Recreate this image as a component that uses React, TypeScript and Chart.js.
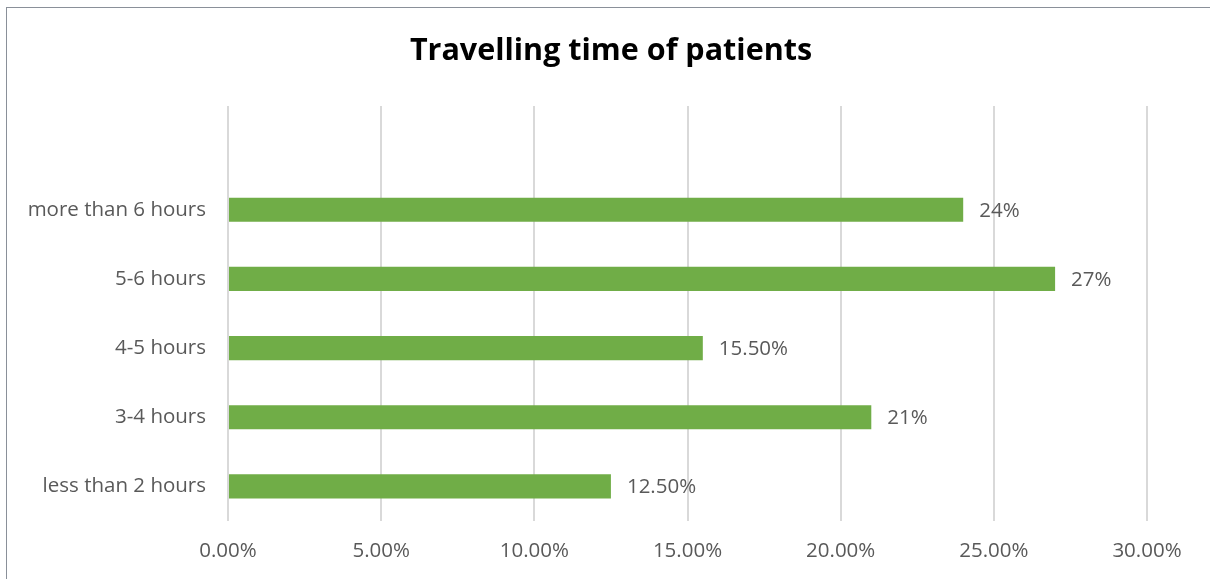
import React, { useEffect, useRef } from "react";
import { Chart, registerables } from "chart.js";

Chart.register(...registerables);

// Travel-time groups, top to bottom (first slot is an empty spacer row)
const categories: string[] = ["", "more than 6 hours", "5-6 hours", "4-5 hours", "3-4 hours", "less than 2 hours"];
// Share of patients in each group, percent
const shares: (number | null)[] = [null, 24, 27, 15.5, 21, 12.5];
// Horizontal axis range and step, percent
const axisMin = 0;
const axisMax = 30;
const axisStep = 5;
const chartTitle = "Travelling time of patients";

const TEXT = "#595959";
const FONT = "'Open Sans', 'DejaVu Sans', sans-serif";

const fmtTick = (v: number) => v.toFixed(2) + "%";
const fmtValue = (v: number) => (Number.isInteger(v) ? `${v}%` : `${v.toFixed(2)}%`);

// Value text right of each bar
const valueLabels = {
  id: "valueLabels",
  afterDatasetsDraw(chart: any) {
    const ctx = chart.ctx;
    const meta = chart.getDatasetMeta(0);
    ctx.save();
    ctx.fillStyle = TEXT;
    ctx.font = `20.5px ${FONT}`;
    ctx.textAlign = "left";
    ctx.textBaseline = "middle";
    meta.data.forEach((bar: any, i: number) => {
      const v = shares[i];
      if (v == null) return;
      ctx.fillText(fmtValue(v), bar.x + 16, bar.y + 1);
    });
    ctx.restore();
  },
};

// Title centred across the whole chart box
const boxTitle = {
  id: "boxTitle",
  afterDraw(chart: any) {
    const ctx = chart.ctx;
    ctx.save();
    ctx.fillStyle = "#000000";
    ctx.font = `bold 30.5px ${FONT}`;
    ctx.textAlign = "center";
    ctx.textBaseline = "middle";
    ctx.fillText(chartTitle, 611, 51);
    ctx.restore();
  },
};

export default function App() {
  const ref = useRef<HTMLCanvasElement>(null);

  useEffect(() => {
    if (!ref.current) return;
    const chart = new Chart(ref.current, {
      type: "bar",
      data: {
        labels: categories,
        datasets: [
          {
            data: shares,
            backgroundColor: "#70ad47",
            borderWidth: 0,
            categoryPercentage: 1,
            barPercentage: 0.35,
          },
        ],
      },
      options: {
        indexAxis: "y",
        animation: false,
        responsive: false,
        maintainAspectRatio: false,
        layout: { padding: { left: 0, right: 63, top: 106, bottom: 0 } },
        plugins: {
          legend: { display: false },
          tooltip: { enabled: false },
          title: { display: false },
        },
        scales: {
          x: {
            min: axisMin,
            max: axisMax,
            ticks: {
              stepSize: axisStep,
              color: TEXT,
              font: { family: FONT, size: 20.5 },
              padding: 18,
              callback: (v: any) => fmtTick(Number(v)),
              maxRotation: 0,
            },
            grid: { color: "#d9d9d9", lineWidth: 2, drawTicks: false },
            border: { display: false },
            afterFit: (s: any) => {
              s.height = 58;
            },
          },
          y: {
            ticks: {
              color: TEXT,
              font: { family: FONT, size: 20.5 },
              padding: 22,
            },
            grid: { display: false, drawTicks: false },
            border: { display: false },
            afterFit: (s: any) => {
              s.width = 228;
            },
          },
        },
      },
      plugins: [valueLabels, boxTitle],
    });
    return () => chart.destroy();
  }, []);

  return (
    <div style={{ position: "fixed", left: 0, top: 0, width: 1210, height: 579, background: "#fff", overflow: "hidden" }}>
      <canvas ref={ref} width={1210} height={579} style={{ position: "absolute", left: 0, top: 0 }} />
      <div
        style={{
          position: "absolute",
          left: 6,
          top: 7,
          width: 1300,
          height: 700,
          borderLeft: "1.5px solid #8a9099",
          borderTop: "1.5px solid #8a9099",
          pointerEvents: "none",
        }}
      />
    </div>
  );
}
